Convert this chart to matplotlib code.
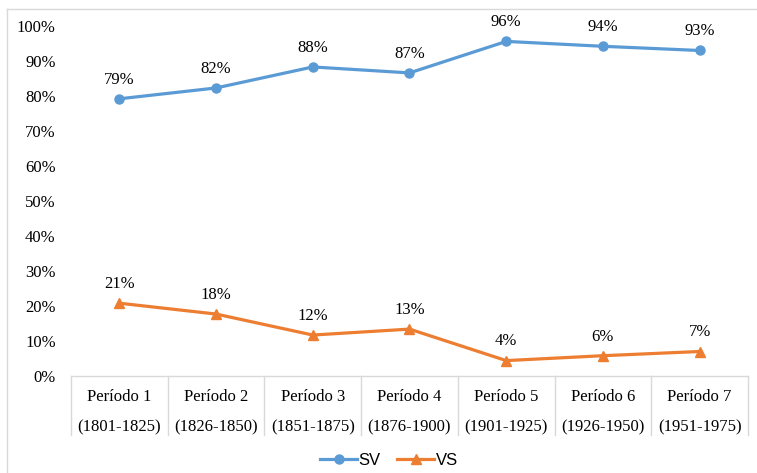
import matplotlib.pyplot as plt
from matplotlib.lines import Line2D
import matplotlib.transforms as mtransforms

periodos = ['Período 1', 'Período 2', 'Período 3', 'Período 4', 'Período 5', 'Período 6', 'Período 7']
anos = ['(1801-1825)', '(1826-1850)', '(1851-1875)', '(1876-1900)', '(1901-1925)', '(1926-1950)', '(1951-1975)']
sv = [79.2, 82.3, 88.3, 86.6, 95.6, 94.2, 93.0]
vs = [20.8, 17.7, 11.7, 13.4, 4.4, 5.8, 7.0]
sv_labels = ['79%', '82%', '88%', '87%', '96%', '94%', '93%']
vs_labels = ['21%', '18%', '12%', '13%', '4%', '6%', '7%']

plt.rcParams['font.family'] = ['Liberation Serif', 'DejaVu Serif']

W, H = 757, 473
fig = plt.figure(figsize=(W / 100, H / 100), dpi=100)
ax = fig.add_axes([71 / W, 1 - 376 / H, (748 - 71) / W, 350 / H])

x = list(range(len(periodos)))
blue = '#5B9BD5'
orange = '#ED7D31'
ax.plot(x, sv, color=blue, lw=2.3, marker='o', ms=6.5, label='SV', clip_on=False)
ax.plot(x, vs, color=orange, lw=2.3, marker='^', ms=7, label='VS', clip_on=False)

for xi, v, t in zip(x, sv, sv_labels):
    ax.annotate(t, (xi, v), xytext=(0, 8), textcoords='offset points',
                ha='center', va='bottom', fontsize=12)
for xi, v, t in zip(x, vs, vs_labels):
    ax.annotate(t, (xi, v), xytext=(0, 8), textcoords='offset points',
                ha='center', va='bottom', fontsize=12)

ax.set_xlim(-0.5, len(periodos) - 0.5)
ax.set_ylim(0, 100)
ax.set_yticks(range(0, 101, 10))
ax.set_yticklabels([f'{v}%' for v in range(0, 101, 10)], fontsize=12)
ax.set_xticks(x)
ax.set_xticklabels([f'{p}\n{a}' for p, a in zip(periodos, anos)], fontsize=12, linespacing=2.2)
ax.tick_params(axis='y', length=0, pad=11)
ax.tick_params(axis='x', length=0, pad=9)

for s in ['left', 'top', 'right']:
    ax.spines[s].set_visible(False)
ax.spines['bottom'].set_color('#d9d9d9')
ax.spines['bottom'].set_linewidth(1)

# separadores de categorias
trans = mtransforms.blended_transform_factory(ax.transData, ax.transAxes)
for b in range(len(periodos) + 1):
    ax.add_line(Line2D([b - 0.5, b - 0.5], [0, -59 / 350], transform=trans,
                       color='#d9d9d9', lw=1, clip_on=False))

# borde del gráfico
fig.add_artist(Line2D([7 / W, 7 / W], [0, 1 - 9 / H], color='#d9d9d9', lw=1))
fig.add_artist(Line2D([7 / W, 1], [1 - 9 / H, 1 - 9 / H], color='#d9d9d9', lw=1))

fig.legend(loc='center', bbox_to_anchor=(389 / W, 1 - 460 / H), ncol=2, frameon=False,
           handlelength=2.2, handletextpad=0.1, columnspacing=1.0,
           prop={'family': 'Liberation Sans', 'size': 12})

fig.savefig('out.png', dpi=100)
